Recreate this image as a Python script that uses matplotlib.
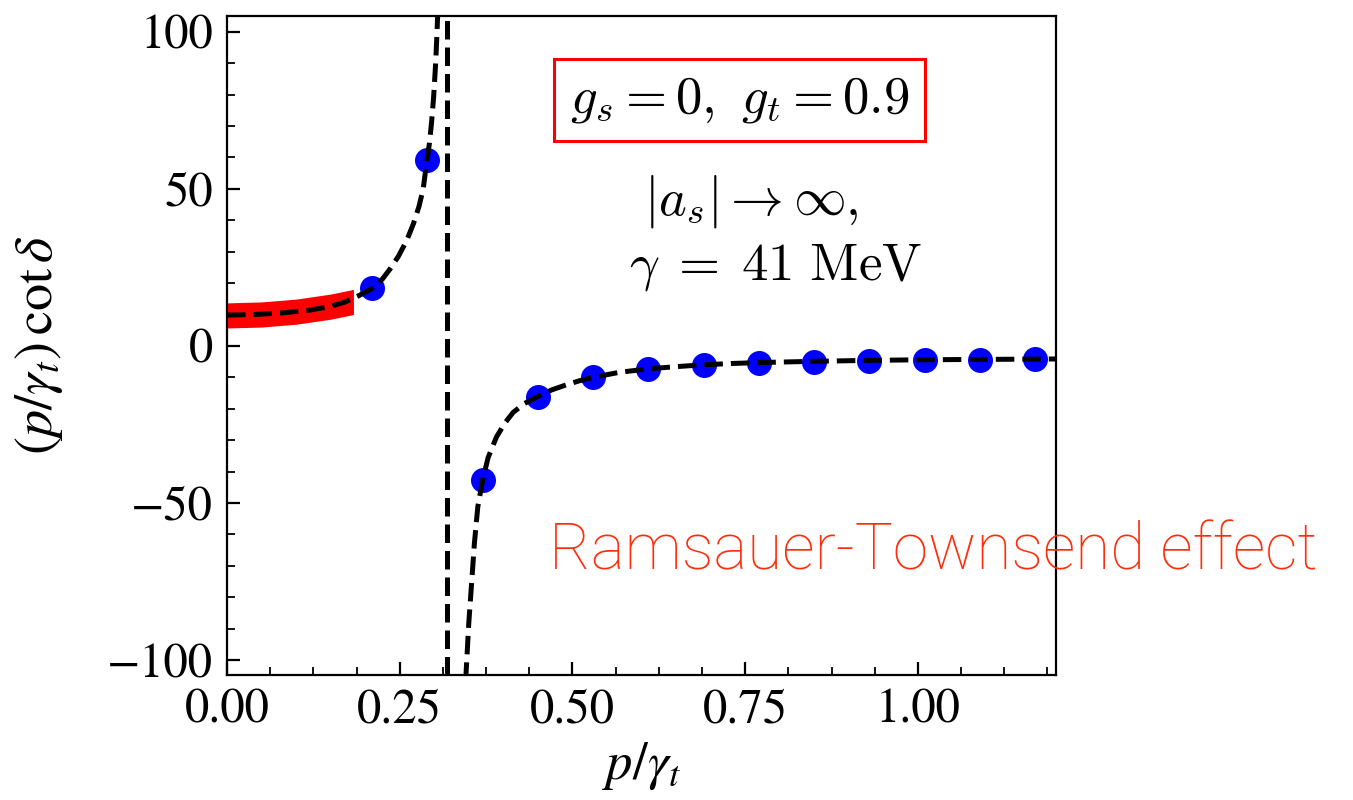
import numpy as np
import matplotlib.pyplot as plt
from matplotlib.ticker import MultipleLocator, AutoMinorLocator

plt.rcParams['font.family'] = 'STIXGeneral'
plt.rcParams['mathtext.fontset'] = 'stix'

# lattice points (blue dots)
p_pts = [0.21, 0.29, 0.37, 0.45, 0.53, 0.61, 0.69, 0.77, 0.85, 0.93, 1.01, 1.09, 1.17]
pcot_pts = [18.4, 59.2, -42.7, -16.1, -9.8, -7.4, -6.0, -5.3, -5.0, -4.7, -4.5, -4.35, -4.25]

# effective-range curve, below the pole
p_left = [0.0, 0.04, 0.08, 0.12, 0.15, 0.17, 0.19, 0.211, 0.225, 0.236, 0.248, 0.260,
          0.270, 0.278, 0.284, 0.289, 0.293, 0.296, 0.299, 0.302, 0.304, 0.306]
pcot_left = [9.8, 10.0, 10.5, 11.4, 12.6, 13.9, 15.9, 18.4, 21.3, 24.5, 28.5, 33.5,
             39.0, 44.5, 50.0, 58.5, 64.5, 71.0, 79.0, 90.0, 100.0, 112.0]

# effective-range curve, above the pole
p_right = [0.343, 0.346, 0.350, 0.354, 0.358, 0.363, 0.370, 0.378, 0.390, 0.402, 0.414,
           0.430, 0.450, 0.470, 0.491, 0.510, 0.530, 0.568, 0.610, 0.65, 0.69, 0.73,
           0.77, 0.85, 0.93, 1.01, 1.09, 1.17, 1.2]
pcot_right = [-115.0, -104.2, -88.0, -75.6, -63.0, -51.2, -42.7, -35.5, -29.0, -24.6, -21.2,
              -18.4, -16.1, -14.0, -12.4, -11.1, -10.0, -8.4, -7.3, -6.6, -6.0, -5.6,
              -5.3, -4.9, -4.6, -4.4, -4.3, -4.2, -4.15]

# pole position
p_pole = 0.319

# low-momentum band
p_band = [0.0, 0.05, 0.10, 0.15, 0.183]
band_mid = [9.7, 10.0, 10.9, 12.5, 14.0]
band_half = 4.0

fig = plt.figure(figsize=(13.53, 8), dpi=100)
ax = fig.add_axes([0.1678, 0.156, 0.6127, 0.824])

lo = [m - band_half for m in band_mid]
hi = [m + band_half for m in band_mid]
ax.fill_between(p_band, lo, hi, color='#ff0000', lw=0, zorder=2)

ax.plot(p_pts, pcot_pts, 'o', color='#0000ff', ms=18, mec='none', zorder=3)
ax.plot(p_left, pcot_left, '--', color='black', lw=3.6, zorder=4)
ax.plot(p_right, pcot_right, '--', color='black', lw=3.6, zorder=4)
ax.axvline(p_pole, ls='--', color='black', lw=3.6, zorder=4)

ax.set_xlim(0, 1.2)
ax.set_ylim(-104.8, 105)
ax.xaxis.set_major_locator(MultipleLocator(0.25))
ax.xaxis.set_minor_locator(AutoMinorLocator(4))
ax.yaxis.set_major_locator(MultipleLocator(50))
ax.yaxis.set_minor_locator(AutoMinorLocator(5))
ax.xaxis.set_major_formatter(plt.FuncFormatter(lambda v, _: f'{v:.2f}'))
ax.yaxis.set_major_formatter(plt.FuncFormatter(lambda v, _: f'{v:.0f}'.replace('-', '\u2212')))

ax.tick_params(which='both', direction='in', top=False, right=False, labelsize=35)
ax.tick_params(which='major', length=9.5, width=1.6, pad=10)
ax.tick_params(which='minor', length=6, width=1.3)
for s in ax.spines.values():
    s.set_linewidth(1.6)

ax.set_xlabel(r'$p/\gamma_t$', fontsize=38, labelpad=4)
ax.set_ylabel(r'$(p/\gamma_t)\,\cot\delta$', fontsize=39, labelpad=30)

ax.text(0.618, 0.873, r'$g_s=0,\ g_t=0.9$', transform=ax.transAxes, fontsize=38,
        ha='center', va='center', math_fontfamily='cm',
        bbox=dict(boxstyle='square,pad=0.3', fc='white', ec='#ff0000', lw=2.2))
ax.text(0.633, 0.719, r'$|a_s|\rightarrow\infty,$', transform=ax.transAxes, fontsize=38,
        ha='center', va='center', math_fontfamily='cm')
ax.text(0.662, 0.618, r'$\gamma\;=\;41\ \mathrm{MeV}$', transform=ax.transAxes, fontsize=38,
        ha='center', va='center', math_fontfamily='cm')

ax.text(0.388, 0.188, 'Ramsauer-Townsend effect', transform=ax.transAxes, fontsize=46,
        family='Roboto', fontweight='light', color='#ff2d0a', ha='left', va='center',
        clip_on=False, zorder=5)

fig.savefig('out.png', dpi=100, facecolor='white')
